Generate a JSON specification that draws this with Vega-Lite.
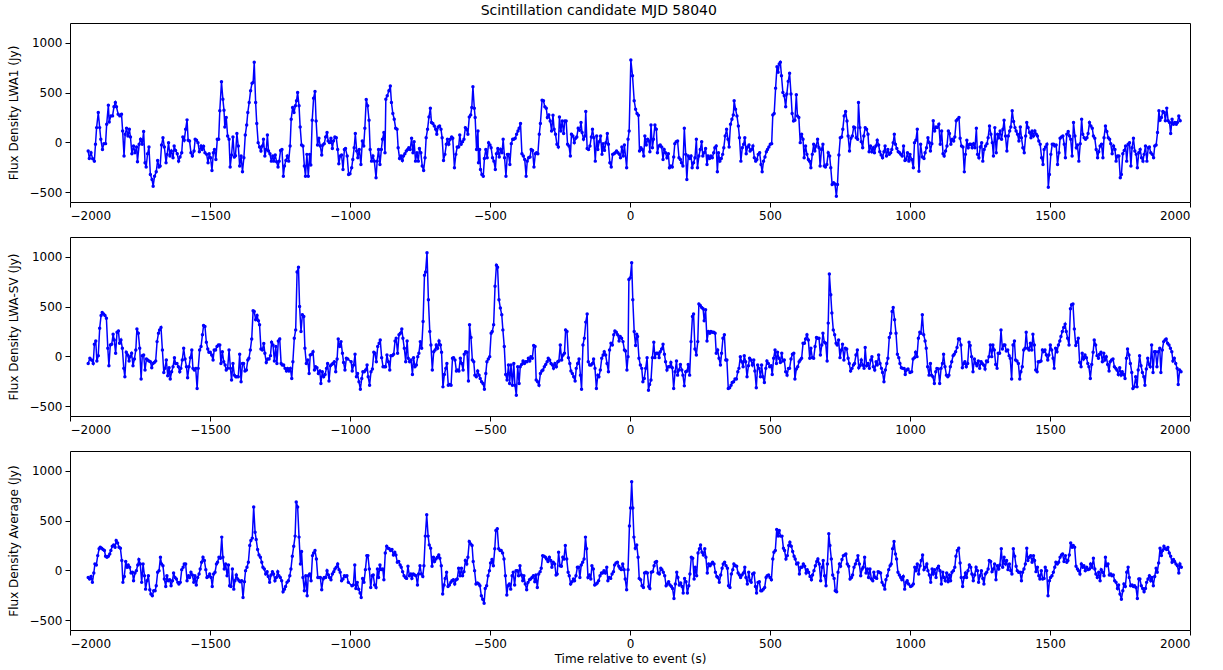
{
"$schema": "https://vega.github.io/schema/vega-lite/v6.json",
"padding": {"left": 6, "top": 3, "right": 5, "bottom": 5},
"background": "white",
"title": {"text": "Scintillation candidate MJD 58040", "fontSize": 14, "fontWeight": "normal", "font": "DejaVu Sans", "color": "black", "anchor": "middle", "offset": 5},
"config": {
  "font": "DejaVu Sans",
  "view": {"stroke": "black", "strokeWidth": 1},
  "axis": {"labelFont": "DejaVu Sans", "titleFont": "DejaVu Sans", "labelFontSize": 12, "titleFontSize": 12, "labelColor": "black", "titleColor": "black", "titleFontWeight": "normal", "grid": false, "domain": false, "tickColor": "black", "tickSize": 5, "tickWidth": 1, "labelPadding": 3, "format": "d"},
  "concat": {"spacing": 35}
},
"bounds": "flush",
"spacing": 35,
"datasets": {
"p1": [
{"t":-1935,"v":-88},{"t":-1931,"v":-162},{"t":-1925,"v":-104},{"t":-1919,"v":-165},{"t":-1913,"v":-189},{"t":-1909,"v":-20},{"t":-1905,"v":148},{"t":-1899,"v":300},{"t":-1894,"v":148},{"t":-1890,"v":30},{"t":-1884,"v":-71},{"t":-1879,"v":-13},{"t":-1873,"v":-13},{"t":-1869,"v":182},{"t":-1863,"v":374},{"t":-1860,"v":205},{"t":-1854,"v":266},{"t":-1848,"v":266},{"t":-1843,"v":357},{"t":-1838,"v":401},{"t":-1834,"v":357},{"t":-1828,"v":283},{"t":-1822,"v":266},{"t":-1816,"v":283},{"t":-1812,"v":115},{"t":-1807,"v":-138},{"t":-1803,"v":81},{"t":-1798,"v":141},{"t":-1793,"v":64},{"t":-1788,"v":131},{"t":-1784,"v":54},{"t":-1779,"v":-115},{"t":-1773,"v":-37},{"t":-1768,"v":-104},{"t":-1762,"v":-47},{"t":-1759,"v":-195},{"t":-1753,"v":-20},{"t":-1748,"v":30},{"t":-1742,"v":-20},{"t":-1737,"v":108},{"t":-1732,"v":-205},{"t":-1728,"v":-249},{"t":-1723,"v":-115},{"t":-1718,"v":-47},{"t":-1713,"v":-323},{"t":-1707,"v":-374},{"t":-1703,"v":-441},{"t":-1698,"v":-340},{"t":-1692,"v":-296},{"t":-1687,"v":-182},{"t":-1682,"v":-249},{"t":-1678,"v":-239},{"t":-1673,"v":-27},{"t":-1668,"v":47},{"t":-1663,"v":-47},{"t":-1657,"v":-205},{"t":-1653,"v":-121},{"t":-1648,"v":-3},{"t":-1643,"v":-138},{"t":-1638,"v":-88},{"t":-1632,"v":-155},{"t":-1628,"v":-37},{"t":-1623,"v":-81},{"t":-1617,"v":-115},{"t":-1612,"v":-189},{"t":-1607,"v":-148},{"t":-1601,"v":-104},{"t":-1597,"v":54},{"t":-1592,"v":20},{"t":-1587,"v":131},{"t":-1582,"v":226},{"t":-1578,"v":20},{"t":-1573,"v":13},{"t":-1568,"v":-104},{"t":-1563,"v":-138},{"t":-1557,"v":-88},{"t":-1553,"v":30},{"t":-1548,"v":20},{"t":-1543,"v":-3},{"t":-1538,"v":-94},{"t":-1532,"v":-37},{"t":-1528,"v":-71},{"t":-1523,"v":-40},{"t":-1518,"v":-104},{"t":-1512,"v":-121},{"t":-1507,"v":-205},{"t":-1503,"v":-115},{"t":-1498,"v":-155},{"t":-1493,"v":-283},{"t":-1488,"v":-104},{"t":-1484,"v":-71},{"t":-1479,"v":-172},{"t":-1474,"v":30},{"t":-1469,"v":30},{"t":-1465,"v":317},{"t":-1459,"v":609},{"t":-1454,"v":434},{"t":-1450,"v":323},{"t":-1447,"v":155},{"t":-1442,"v":249},{"t":-1437,"v":64},{"t":-1432,"v":30},{"t":-1428,"v":-249},{"t":-1423,"v":-128},{"t":-1418,"v":54},{"t":-1413,"v":-148},{"t":-1409,"v":-135},{"t":-1404,"v":88},{"t":-1399,"v":-37},{"t":-1394,"v":-239},{"t":-1389,"v":-138},{"t":-1384,"v":-296},{"t":-1379,"v":-155},{"t":-1374,"v":74},{"t":-1369,"v":175},{"t":-1365,"v":300},{"t":-1360,"v":401},{"t":-1355,"v":519},{"t":-1350,"v":593},{"t":-1346,"v":603},{"t":-1342,"v":805},{"t":-1337,"v":401},{"t":-1333,"v":189},{"t":-1328,"v":-3},{"t":-1323,"v":-47},{"t":-1318,"v":-88},{"t":-1313,"v":-37},{"t":-1309,"v":30},{"t":-1304,"v":-138},{"t":-1299,"v":-71},{"t":-1295,"v":74},{"t":-1291,"v":-88},{"t":-1286,"v":-115},{"t":-1281,"v":-189},{"t":-1276,"v":-138},{"t":-1272,"v":-189},{"t":-1267,"v":-128},{"t":-1262,"v":-195},{"t":-1257,"v":-249},{"t":-1253,"v":-189},{"t":-1248,"v":-81},{"t":-1243,"v":-71},{"t":-1238,"v":-340},{"t":-1234,"v":-239},{"t":-1229,"v":-182},{"t":-1224,"v":-138},{"t":-1219,"v":-189},{"t":-1214,"v":-37},{"t":-1210,"v":232},{"t":-1205,"v":350},{"t":-1200,"v":300},{"t":-1195,"v":367},{"t":-1191,"v":418},{"t":-1187,"v":502},{"t":-1182,"v":367},{"t":-1178,"v":155},{"t":-1173,"v":-27},{"t":-1168,"v":-37},{"t":-1163,"v":-239},{"t":-1159,"v":-340},{"t":-1154,"v":-121},{"t":-1149,"v":-340},{"t":-1144,"v":-121},{"t":-1140,"v":-229},{"t":-1135,"v":222},{"t":-1130,"v":444},{"t":-1125,"v":512},{"t":-1121,"v":215},{"t":-1116,"v":-27},{"t":-1111,"v":40},{"t":-1106,"v":-37},{"t":-1101,"v":-128},{"t":-1097,"v":-27},{"t":-1092,"v":-13},{"t":-1087,"v":54},{"t":-1082,"v":98},{"t":-1078,"v":13},{"t":-1073,"v":-3},{"t":-1068,"v":40},{"t":-1063,"v":-61},{"t":-1059,"v":13},{"t":-1054,"v":54},{"t":-1049,"v":47},{"t":-1044,"v":-71},{"t":-1040,"v":-216},{"t":-1035,"v":-138},{"t":-1030,"v":-128},{"t":-1025,"v":-273},{"t":-1020,"v":-71},{"t":-1016,"v":-61},{"t":-1010,"v":-138},{"t":-1005,"v":-323},
{"t":-1000,"v":-317},{"t":-994,"v":-256},{"t":-990,"v":-172},{"t":-985,"v":-54},{"t":-981,"v":88},{"t":-976,"v":-88},{"t":-972,"v":-155},{"t":-967,"v":-71},{"t":-961,"v":-222},{"t":-956,"v":13},{"t":-951,"v":-37},{"t":-947,"v":141},{"t":-942,"v":431},{"t":-937,"v":367},{"t":-932,"v":222},{"t":-928,"v":-71},{"t":-923,"v":-189},{"t":-918,"v":-138},{"t":-913,"v":-189},{"t":-907,"v":-357},{"t":-903,"v":-189},{"t":-898,"v":-71},{"t":-893,"v":-222},{"t":-888,"v":-71},{"t":-884,"v":30},{"t":-879,"v":98},{"t":-875,"v":-104},{"t":-872,"v":434},{"t":-867,"v":468},{"t":-861,"v":519},{"t":-856,"v":566},{"t":-852,"v":401},{"t":-847,"v":290},{"t":-842,"v":232},{"t":-837,"v":141},{"t":-832,"v":131},{"t":-828,"v":-54},{"t":-823,"v":-162},{"t":-818,"v":-138},{"t":-813,"v":-182},{"t":-809,"v":-138},{"t":-804,"v":-115},{"t":-799,"v":-88},{"t":-794,"v":-71},{"t":-790,"v":-54},{"t":-785,"v":-71},{"t":-780,"v":40},{"t":-775,"v":-104},{"t":-771,"v":7},{"t":-766,"v":-189},{"t":-761,"v":-104},{"t":-756,"v":-189},{"t":-752,"v":-61},{"t":-747,"v":-104},{"t":-742,"v":-239},{"t":-737,"v":-283},{"t":-732,"v":-155},{"t":-728,"v":47},{"t":-723,"v":131},{"t":-718,"v":256},{"t":-713,"v":343},{"t":-709,"v":199},{"t":-704,"v":189},{"t":-699,"v":165},{"t":-694,"v":131},{"t":-690,"v":81},{"t":-685,"v":155},{"t":-680,"v":165},{"t":-675,"v":131},{"t":-671,"v":47},{"t":-666,"v":-182},{"t":-661,"v":-121},{"t":-656,"v":-20},{"t":-652,"v":30},{"t":-647,"v":-20},{"t":-642,"v":30},{"t":-637,"v":54},{"t":-633,"v":40},{"t":-627,"v":-256},{"t":-622,"v":-121},{"t":-617,"v":-47},{"t":-612,"v":-47},{"t":-608,"v":74},{"t":-603,"v":-20},{"t":-598,"v":7},{"t":-593,"v":30},{"t":-588,"v":148},{"t":-584,"v":131},{"t":-579,"v":81},{"t":-574,"v":256},{"t":-569,"v":276},{"t":-565,"v":350},{"t":-561,"v":559},{"t":-556,"v":343},{"t":-553,"v":249},{"t":-548,"v":-71},{"t":-543,"v":115},{"t":-541,"v":-205},{"t":-537,"v":-71},{"t":-534,"v":-273},{"t":-529,"v":-323},{"t":-524,"v":-340},{"t":-520,"v":-162},{"t":-515,"v":-71},{"t":-510,"v":-155},{"t":-505,"v":-3},{"t":-500,"v":-27},{"t":-496,"v":-54},{"t":-491,"v":-155},{"t":-486,"v":-189},{"t":-481,"v":-273},{"t":-477,"v":-115},{"t":-472,"v":-61},{"t":-467,"v":-148},{"t":-462,"v":-71},{"t":-457,"v":-104},{"t":-453,"v":30},{"t":-448,"v":-155},{"t":-443,"v":-340},{"t":-438,"v":-121},{"t":-434,"v":-121},{"t":-429,"v":-222},{"t":-424,"v":-13},{"t":-419,"v":30},{"t":-415,"v":30},{"t":-410,"v":40},{"t":-405,"v":81},{"t":-400,"v":115},{"t":-396,"v":141},{"t":-391,"v":189},{"t":-386,"v":-115},{"t":-381,"v":-138},{"t":-376,"v":-172},{"t":-371,"v":-340},{"t":-367,"v":-189},{"t":-362,"v":-155},{"t":-357,"v":-148},{"t":-353,"v":-71},{"t":-348,"v":-81},{"t":-343,"v":-249},{"t":-338,"v":-115},{"t":-334,"v":-104},{"t":-329,"v":-115},{"t":-324,"v":81},{"t":-320,"v":189},{"t":-314,"v":424},{"t":-309,"v":418},{"t":-304,"v":357},{"t":-299,"v":343},{"t":-295,"v":249},{"t":-290,"v":276},{"t":-285,"v":215},{"t":-280,"v":115},{"t":-275,"v":273},{"t":-271,"v":131},{"t":-266,"v":81},{"t":-261,"v":-20},{"t":-256,"v":-47},{"t":-252,"v":256},{"t":-247,"v":115},{"t":-242,"v":215},{"t":-237,"v":88},{"t":-233,"v":215},{"t":-228,"v":215},{"t":-223,"v":-20},{"t":-218,"v":-37},{"t":-213,"v":-138},{"t":-209,"v":81},{"t":-204,"v":64},{"t":-199,"v":-3},{"t":-194,"v":40},{"t":-190,"v":54},{"t":-185,"v":141},{"t":-180,"v":121},{"t":-175,"v":199},{"t":-171,"v":98},{"t":-166,"v":30},{"t":-161,"v":64},{"t":-158,"v":310},{"t":-153,"v":-61},{"t":-148,"v":-71},{"t":-143,"v":-37},{"t":-138,"v":54},{"t":-134,"v":131},{"t":-129,"v":47},{"t":-124,"v":-189},{"t":-119,"v":64},{"t":-115,"v":-71},{"t":-110,"v":7},{"t":-105,"v":64},{"t":-100,"v":-121},{"t":-96,"v":-13},{"t":-91,"v":-81},{"t":-86,"v":-3},{"t":-81,"v":88},{"t":-77,"v":-20},{"t":-72,"v":-205},{"t":-67,"v":-249},{"t":-62,"v":-121},{"t":-57,"v":-115},{"t":-53,"v":-104},{"t":-48,"v":-88},{"t":-43,"v":-104},{"t":-38,"v":-121},{"t":-34,"v":-155},{"t":-29,"v":-47},{"t":-24,"v":-138},{"t":-20,"v":-27},
{"t":-12,"v":-256},{"t":-7,"v":30},{"t":-3,"v":115},{"t":3,"v":828},{"t":9,"v":670},{"t":15,"v":418},{"t":20,"v":333},{"t":25,"v":290},{"t":30,"v":273},{"t":34,"v":-88},{"t":39,"v":-54},{"t":44,"v":-71},{"t":49,"v":-138},{"t":53,"v":64},{"t":58,"v":-27},{"t":63,"v":30},{"t":68,"v":13},{"t":71,"v":-94},{"t":75,"v":175},{"t":80,"v":-54},{"t":84,"v":30},{"t":89,"v":175},{"t":94,"v":131},{"t":98,"v":-104},{"t":103,"v":-37},{"t":108,"v":-27},{"t":113,"v":-47},{"t":118,"v":-172},{"t":122,"v":-71},{"t":127,"v":-104},{"t":132,"v":-155},{"t":137,"v":-115},{"t":141,"v":-256},{"t":146,"v":-239},{"t":151,"v":-249},{"t":156,"v":-148},{"t":160,"v":-13},{"t":165,"v":7},{"t":170,"v":13},{"t":175,"v":-155},{"t":180,"v":-172},{"t":184,"v":-205},{"t":189,"v":-239},{"t":194,"v":141},{"t":199,"v":-121},{"t":203,"v":-374},{"t":208,"v":-138},{"t":213,"v":-162},{"t":218,"v":-138},{"t":222,"v":-256},{"t":227,"v":-205},{"t":232,"v":-155},{"t":237,"v":30},{"t":241,"v":-256},{"t":246,"v":-138},{"t":251,"v":-71},{"t":256,"v":7},{"t":260,"v":-138},{"t":265,"v":-104},{"t":270,"v":-61},{"t":275,"v":-222},{"t":279,"v":-138},{"t":284,"v":-162},{"t":289,"v":-138},{"t":294,"v":-155},{"t":299,"v":-104},{"t":303,"v":-54},{"t":308,"v":-37},{"t":312,"v":-296},{"t":316,"v":-104},{"t":321,"v":-189},{"t":326,"v":-162},{"t":331,"v":-121},{"t":335,"v":-54},{"t":340,"v":64},{"t":345,"v":131},{"t":350,"v":30},{"t":354,"v":-47},{"t":359,"v":182},{"t":364,"v":232},{"t":369,"v":276},{"t":372,"v":418},{"t":377,"v":333},{"t":382,"v":266},{"t":387,"v":165},{"t":391,"v":47},{"t":396,"v":-189},{"t":401,"v":-54},{"t":406,"v":-20},{"t":410,"v":47},{"t":415,"v":-115},{"t":420,"v":-47},{"t":425,"v":-27},{"t":429,"v":-88},{"t":434,"v":-71},{"t":439,"v":-37},{"t":444,"v":-155},{"t":449,"v":-189},{"t":453,"v":-172},{"t":458,"v":-121},{"t":463,"v":-104},{"t":468,"v":-222},{"t":472,"v":-296},{"t":477,"v":-189},{"t":482,"v":-148},{"t":487,"v":-94},{"t":491,"v":-71},{"t":496,"v":-47},{"t":501,"v":-20},{"t":506,"v":-13},{"t":510,"v":276},{"t":515,"v":290},{"t":520,"v":545},{"t":525,"v":761},{"t":529,"v":704},{"t":533,"v":788},{"t":537,"v":805},{"t":541,"v":670},{"t":546,"v":502},{"t":551,"v":468},{"t":556,"v":357},{"t":560,"v":485},{"t":565,"v":613},{"t":570,"v":694},{"t":575,"v":485},{"t":579,"v":290},{"t":584,"v":215},{"t":589,"v":222},{"t":594,"v":478},{"t":598,"v":266},{"t":603,"v":249},{"t":608,"v":-3},{"t":613,"v":81},{"t":618,"v":30},{"t":622,"v":-155},{"t":627,"v":-37},{"t":632,"v":-121},{"t":637,"v":-172},{"t":641,"v":-189},{"t":646,"v":-256},{"t":651,"v":-121},{"t":656,"v":-20},{"t":660,"v":-88},{"t":665,"v":-37},{"t":670,"v":30},{"t":675,"v":-54},{"t":679,"v":-239},{"t":684,"v":-71},{"t":689,"v":-20},{"t":694,"v":-239},{"t":698,"v":-249},{"t":703,"v":-222},{"t":708,"v":-104},{"t":713,"v":-138},{"t":717,"v":-256},{"t":722,"v":-424},{"t":727,"v":-407},{"t":732,"v":-418},{"t":737,"v":-542},{"t":741,"v":-424},{"t":746,"v":-128},{"t":751,"v":47},{"t":756,"v":54},{"t":760,"v":131},{"t":765,"v":266},{"t":770,"v":310},{"t":775,"v":215},{"t":779,"v":64},{"t":784,"v":-88},{"t":789,"v":40},{"t":794,"v":64},{"t":799,"v":155},{"t":803,"v":148},{"t":808,"v":47},{"t":813,"v":30},{"t":816,"v":401},{"t":821,"v":148},{"t":826,"v":7},{"t":831,"v":-54},{"t":835,"v":64},{"t":840,"v":148},{"t":845,"v":131},{"t":850,"v":81},{"t":854,"v":-94},{"t":859,"v":-37},{"t":864,"v":-94},{"t":869,"v":-54},{"t":873,"v":-104},{"t":878,"v":-37},{"t":883,"v":20},{"t":888,"v":-27},{"t":892,"v":-94},{"t":897,"v":-128},{"t":902,"v":-155},{"t":907,"v":-94},{"t":911,"v":-37},{"t":916,"v":-138},{"t":921,"v":-71},{"t":926,"v":-121},{"t":931,"v":-104},{"t":935,"v":-71},{"t":940,"v":-3},{"t":944,"v":81},{"t":948,"v":-20},{"t":953,"v":-61},{"t":958,"v":-94},{"t":963,"v":-104},{"t":967,"v":-121},{"t":972,"v":-138},{"t":977,"v":-37},{"t":982,"v":-182},{"t":986,"v":-172},{"t":991,"v":-104},{"t":996,"v":-189},
{"t":1000,"v":-121},{"t":1006,"v":-172},{"t":1012,"v":-256},{"t":1016,"v":-3},{"t":1021,"v":20},{"t":1026,"v":131},{"t":1032,"v":-290},{"t":1038,"v":-20},{"t":1044,"v":-148},{"t":1050,"v":-162},{"t":1054,"v":-104},{"t":1059,"v":-54},{"t":1064,"v":47},{"t":1069,"v":-3},{"t":1073,"v":-88},{"t":1078,"v":-13},{"t":1083,"v":216},{"t":1088,"v":115},{"t":1093,"v":155},{"t":1097,"v":148},{"t":1103,"v":182},{"t":1108,"v":-20},{"t":1113,"v":115},{"t":1118,"v":-115},{"t":1122,"v":-138},{"t":1127,"v":-88},{"t":1132,"v":-37},{"t":1137,"v":115},{"t":1141,"v":88},{"t":1146,"v":-20},{"t":1151,"v":30},{"t":1156,"v":13},{"t":1160,"v":54},{"t":1165,"v":216},{"t":1170,"v":233},{"t":1175,"v":249},{"t":1179,"v":40},{"t":1184,"v":-37},{"t":1189,"v":-47},{"t":1194,"v":-297},{"t":1198,"v":-121},{"t":1203,"v":20},{"t":1208,"v":-54},{"t":1213,"v":-20},{"t":1217,"v":-20},{"t":1222,"v":-54},{"t":1227,"v":-13},{"t":1232,"v":-54},{"t":1237,"v":142},{"t":1241,"v":-121},{"t":1246,"v":-155},{"t":1251,"v":-47},{"t":1256,"v":-3},{"t":1260,"v":-189},{"t":1265,"v":-71},{"t":1270,"v":-37},{"t":1275,"v":-13},{"t":1279,"v":47},{"t":1284,"v":165},{"t":1289,"v":81},{"t":1294,"v":-3},{"t":1298,"v":-138},{"t":1303,"v":148},{"t":1308,"v":-104},{"t":1313,"v":81},{"t":1317,"v":47},{"t":1322,"v":115},{"t":1327,"v":30},{"t":1332,"v":131},{"t":1336,"v":222},{"t":1341,"v":64},{"t":1346,"v":-88},{"t":1351,"v":64},{"t":1356,"v":115},{"t":1360,"v":155},{"t":1365,"v":317},{"t":1370,"v":209},{"t":1375,"v":148},{"t":1379,"v":115},{"t":1384,"v":81},{"t":1389,"v":13},{"t":1394,"v":155},{"t":1398,"v":47},{"t":1403,"v":-54},{"t":1408,"v":-104},{"t":1413,"v":64},{"t":1417,"v":199},{"t":1422,"v":148},{"t":1427,"v":98},{"t":1432,"v":47},{"t":1436,"v":115},{"t":1441,"v":64},{"t":1446,"v":115},{"t":1451,"v":81},{"t":1455,"v":64},{"t":1460,"v":13},{"t":1465,"v":-20},{"t":1470,"v":-155},{"t":1475,"v":-222},{"t":1479,"v":-71},{"t":1484,"v":-47},{"t":1489,"v":-20},{"t":1494,"v":-452},{"t":1498,"v":-324},{"t":1503,"v":-121},{"t":1508,"v":-20},{"t":1513,"v":-20},{"t":1517,"v":-37},{"t":1522,"v":-27},{"t":1527,"v":-222},{"t":1532,"v":-104},{"t":1536,"v":40},{"t":1541,"v":54},{"t":1546,"v":64},{"t":1551,"v":-20},{"t":1555,"v":-155},{"t":1560,"v":81},{"t":1565,"v":108},{"t":1570,"v":64},{"t":1574,"v":30},{"t":1579,"v":-138},{"t":1584,"v":199},{"t":1589,"v":64},{"t":1594,"v":-54},{"t":1598,"v":-27},{"t":1603,"v":-189},{"t":1608,"v":-13},{"t":1613,"v":233},{"t":1617,"v":81},{"t":1622,"v":47},{"t":1627,"v":30},{"t":1632,"v":47},{"t":1636,"v":88},{"t":1641,"v":199},{"t":1646,"v":165},{"t":1651,"v":142},{"t":1655,"v":64},{"t":1660,"v":40},{"t":1665,"v":-71},{"t":1670,"v":-155},{"t":1674,"v":-94},{"t":1679,"v":-37},{"t":1684,"v":-20},{"t":1689,"v":-155},{"t":1693,"v":47},{"t":1698,"v":165},{"t":1703,"v":108},{"t":1708,"v":47},{"t":1713,"v":30},{"t":1717,"v":-13},{"t":1722,"v":-115},{"t":1727,"v":-37},{"t":1732,"v":-71},{"t":1736,"v":-189},{"t":1741,"v":-138},{"t":1746,"v":-138},{"t":1751,"v":-357},{"t":1755,"v":-324},{"t":1760,"v":-115},{"t":1765,"v":-81},{"t":1770,"v":-37},{"t":1774,"v":-189},{"t":1779,"v":-20},{"t":1784,"v":-3},{"t":1789,"v":-239},{"t":1793,"v":-54},{"t":1798,"v":40},{"t":1803,"v":-88},{"t":1808,"v":-121},{"t":1812,"v":-256},{"t":1817,"v":-104},{"t":1822,"v":-71},{"t":1827,"v":-155},{"t":1832,"v":-189},{"t":1836,"v":-121},{"t":1841,"v":-37},{"t":1846,"v":-189},{"t":1851,"v":-54},{"t":1855,"v":-47},{"t":1860,"v":-104},{"t":1865,"v":-121},{"t":1870,"v":-155},{"t":1874,"v":-37},{"t":1879,"v":-27},{"t":1884,"v":98},{"t":1889,"v":317},{"t":1893,"v":222},{"t":1898,"v":249},{"t":1903,"v":310},{"t":1908,"v":300},{"t":1912,"v":216},{"t":1917,"v":344},{"t":1922,"v":216},{"t":1927,"v":199},{"t":1931,"v":88},{"t":1936,"v":233},{"t":1941,"v":182},{"t":1946,"v":199},{"t":1951,"v":182},{"t":1955,"v":199},{"t":1960,"v":266},{"t":1965,"v":216}
],
"p2": [
{"t":-1935,"v":-71},{"t":-1929,"v":-20},{"t":-1923,"v":-37},{"t":-1917,"v":-71},{"t":-1913,"v":121},{"t":-1908,"v":155},{"t":-1904,"v":-47},{"t":-1899,"v":7},{"t":-1894,"v":283},{"t":-1889,"v":411},{"t":-1885,"v":441},{"t":-1880,"v":425},{"t":-1875,"v":411},{"t":-1870,"v":384},{"t":-1865,"v":81},{"t":-1861,"v":-94},{"t":-1856,"v":115},{"t":-1851,"v":121},{"t":-1846,"v":222},{"t":-1842,"v":165},{"t":-1837,"v":30},{"t":-1832,"v":243},{"t":-1827,"v":256},{"t":-1823,"v":131},{"t":-1818,"v":165},{"t":-1813,"v":81},{"t":-1808,"v":-121},{"t":-1804,"v":-206},{"t":-1799,"v":40},{"t":-1794,"v":13},{"t":-1789,"v":-47},{"t":-1785,"v":-3},{"t":-1780,"v":30},{"t":-1775,"v":-94},{"t":-1770,"v":-27},{"t":-1765,"v":64},{"t":-1761,"v":276},{"t":-1756,"v":233},{"t":-1751,"v":81},{"t":-1746,"v":-229},{"t":-1742,"v":7},{"t":-1737,"v":13},{"t":-1732,"v":-138},{"t":-1727,"v":-27},{"t":-1723,"v":-37},{"t":-1718,"v":-47},{"t":-1713,"v":-54},{"t":-1708,"v":-115},{"t":-1704,"v":-71},{"t":-1699,"v":-61},{"t":-1694,"v":-47},{"t":-1689,"v":148},{"t":-1684,"v":233},{"t":-1680,"v":266},{"t":-1675,"v":290},{"t":-1670,"v":64},{"t":-1665,"v":-162},{"t":-1661,"v":-121},{"t":-1656,"v":-37},{"t":-1651,"v":-195},{"t":-1646,"v":-115},{"t":-1642,"v":-229},{"t":-1637,"v":-155},{"t":-1632,"v":-104},{"t":-1627,"v":-13},{"t":-1623,"v":-71},{"t":-1618,"v":-71},{"t":-1613,"v":-104},{"t":-1608,"v":-155},{"t":-1604,"v":-121},{"t":-1599,"v":-37},{"t":-1594,"v":81},{"t":-1589,"v":-27},{"t":-1584,"v":-104},{"t":-1580,"v":-216},{"t":-1575,"v":-104},{"t":-1570,"v":-13},{"t":-1565,"v":64},{"t":-1561,"v":-121},{"t":-1556,"v":-138},{"t":-1551,"v":-121},{"t":-1546,"v":-324},{"t":-1542,"v":-121},{"t":-1537,"v":64},{"t":-1532,"v":98},{"t":-1527,"v":216},{"t":-1523,"v":310},{"t":-1518,"v":300},{"t":-1513,"v":142},{"t":-1508,"v":74},{"t":-1504,"v":40},{"t":-1499,"v":40},{"t":-1494,"v":13},{"t":-1489,"v":-37},{"t":-1485,"v":64},{"t":-1480,"v":64},{"t":-1475,"v":98},{"t":-1470,"v":115},{"t":-1465,"v":115},{"t":-1461,"v":-71},{"t":-1456,"v":47},{"t":-1451,"v":-54},{"t":-1446,"v":-88},{"t":-1442,"v":-138},{"t":-1437,"v":-121},{"t":-1432,"v":64},{"t":-1427,"v":-121},{"t":-1423,"v":-239},{"t":-1418,"v":-71},{"t":-1413,"v":-189},{"t":-1408,"v":-206},{"t":-1404,"v":-206},{"t":-1399,"v":-206},{"t":-1394,"v":20},{"t":-1389,"v":-256},{"t":-1384,"v":-71},{"t":-1380,"v":-71},{"t":-1375,"v":-148},{"t":-1370,"v":-138},{"t":-1365,"v":-37},{"t":-1361,"v":-20},{"t":-1356,"v":64},{"t":-1351,"v":175},{"t":-1346,"v":458},{"t":-1342,"v":452},{"t":-1337,"v":367},{"t":-1332,"v":411},{"t":-1327,"v":357},{"t":-1323,"v":317},{"t":-1318,"v":74},{"t":-1313,"v":64},{"t":-1308,"v":128},{"t":-1304,"v":30},{"t":-1299,"v":-61},{"t":-1294,"v":-27},{"t":-1289,"v":-27},{"t":-1284,"v":7},{"t":-1280,"v":142},{"t":-1275,"v":115},{"t":-1270,"v":-47},{"t":-1265,"v":98},{"t":-1261,"v":-71},{"t":-1256,"v":155},{"t":-1251,"v":175},{"t":-1246,"v":-71},{"t":-1242,"v":-88},{"t":-1237,"v":-88},{"t":-1232,"v":-121},{"t":-1227,"v":-148},{"t":-1223,"v":-121},{"t":-1218,"v":-148},{"t":-1213,"v":-121},{"t":-1208,"v":-222},{"t":-1204,"v":-54},{"t":-1199,"v":182},{"t":-1194,"v":266},{"t":-1189,"v":849},{"t":-1184,"v":896},{"t":-1180,"v":502},{"t":-1175,"v":249},{"t":-1170,"v":418},{"t":-1165,"v":401},{"t":-1161,"v":81},{"t":-1156,"v":-71},{"t":-1151,"v":-37},{"t":-1146,"v":-172},{"t":-1142,"v":13},{"t":-1137,"v":20},{"t":-1132,"v":47},{"t":-1127,"v":-138},{"t":-1123,"v":-104},{"t":-1118,"v":-115},{"t":-1113,"v":-172},{"t":-1108,"v":-148},{"t":-1104,"v":-273},{"t":-1099,"v":-155},{"t":-1094,"v":-206},{"t":-1089,"v":-182},{"t":-1084,"v":-121},{"t":-1080,"v":-71},{"t":-1075,"v":-249},{"t":-1070,"v":-94},{"t":-1065,"v":-81},{"t":-1061,"v":-71},{"t":-1056,"v":-54},{"t":-1051,"v":-155},{"t":-1046,"v":-27},{"t":-1042,"v":175},{"t":-1037,"v":98},{"t":-1032,"v":148},{"t":-1027,"v":30},{"t":-1023,"v":-61},{"t":-1018,"v":-138},{"t":-1013,"v":-20},{"t":-1008,"v":-27},
{"t":-996,"v":-54},{"t":-992,"v":-148},{"t":-987,"v":-88},{"t":-982,"v":20},{"t":-977,"v":-206},{"t":-973,"v":-172},{"t":-968,"v":-256},{"t":-963,"v":-330},{"t":-958,"v":-222},{"t":-954,"v":-155},{"t":-949,"v":-155},{"t":-944,"v":-138},{"t":-939,"v":-88},{"t":-935,"v":-206},{"t":-930,"v":-290},{"t":-925,"v":-155},{"t":-920,"v":-128},{"t":-915,"v":40},{"t":-911,"v":30},{"t":-906,"v":-54},{"t":-901,"v":98},{"t":-896,"v":131},{"t":-892,"v":165},{"t":-887,"v":-13},{"t":-882,"v":-104},{"t":-877,"v":-104},{"t":-873,"v":-104},{"t":-868,"v":13},{"t":-863,"v":-54},{"t":-858,"v":-138},{"t":-854,"v":7},{"t":-849,"v":7},{"t":-844,"v":20},{"t":-839,"v":155},{"t":-835,"v":182},{"t":-830,"v":30},{"t":-825,"v":216},{"t":-820,"v":233},{"t":-815,"v":276},{"t":-811,"v":182},{"t":-806,"v":81},{"t":-801,"v":-54},{"t":-796,"v":155},{"t":-792,"v":-20},{"t":-787,"v":-54},{"t":-782,"v":-37},{"t":-777,"v":-182},{"t":-773,"v":-13},{"t":-768,"v":-104},{"t":-763,"v":-88},{"t":-758,"v":-3},{"t":-754,"v":30},{"t":-749,"v":148},{"t":-744,"v":81},{"t":-739,"v":350},{"t":-734,"v":816},{"t":-730,"v":849},{"t":-725,"v":1041},{"t":-720,"v":570},{"t":-715,"v":249},{"t":-711,"v":115},{"t":-706,"v":-138},{"t":-701,"v":47},{"t":-696,"v":64},{"t":-692,"v":115},{"t":-687,"v":81},{"t":-682,"v":155},{"t":-677,"v":115},{"t":-673,"v":40},{"t":-668,"v":-307},{"t":-663,"v":-182},{"t":-658,"v":-121},{"t":-654,"v":-71},{"t":-649,"v":-290},{"t":-644,"v":-283},{"t":-639,"v":-290},{"t":-634,"v":-20},{"t":-630,"v":-13},{"t":-625,"v":-37},{"t":-620,"v":-148},{"t":-615,"v":-138},{"t":-611,"v":-148},{"t":-606,"v":-20},{"t":-601,"v":-71},{"t":-596,"v":-138},{"t":-592,"v":20},{"t":-587,"v":47},{"t":-582,"v":40},{"t":-577,"v":-249},{"t":-573,"v":317},{"t":-568,"v":189},{"t":-563,"v":-37},{"t":-558,"v":-54},{"t":-554,"v":-189},{"t":-549,"v":-206},{"t":-544,"v":-148},{"t":-539,"v":-189},{"t":-535,"v":-222},{"t":-530,"v":-256},{"t":-525,"v":-273},{"t":-520,"v":-330},{"t":-515,"v":-172},{"t":-511,"v":-54},{"t":-506,"v":-27},{"t":-501,"v":-3},{"t":-496,"v":233},{"t":-492,"v":249},{"t":-487,"v":317},{"t":-482,"v":704},{"t":-477,"v":917},{"t":-473,"v":896},{"t":-468,"v":570},{"t":-463,"v":485},{"t":-458,"v":418},{"t":-454,"v":266},{"t":-449,"v":98},{"t":-444,"v":-182},{"t":-439,"v":-239},{"t":-434,"v":-88},{"t":-430,"v":-273},{"t":-425,"v":-88},{"t":-420,"v":-290},{"t":-415,"v":-71},{"t":-411,"v":-290},{"t":-406,"v":-391},{"t":-401,"v":-104},{"t":-396,"v":-273},{"t":-392,"v":-104},{"t":-387,"v":-81},{"t":-382,"v":-47},{"t":-377,"v":-71},{"t":-373,"v":-54},{"t":-368,"v":-54},{"t":-363,"v":-20},{"t":-358,"v":-47},{"t":-354,"v":-3},{"t":-349,"v":-20},{"t":-344,"v":108},{"t":-339,"v":98},{"t":-335,"v":-239},{"t":-330,"v":-256},{"t":-325,"v":-290},{"t":-320,"v":-172},{"t":-315,"v":-148},{"t":-311,"v":-138},{"t":-306,"v":-104},{"t":-301,"v":-81},{"t":-296,"v":-54},{"t":-292,"v":-20},{"t":-287,"v":-37},{"t":-282,"v":-71},{"t":-277,"v":-88},{"t":-273,"v":-121},{"t":-268,"v":-71},{"t":-263,"v":-104},{"t":-258,"v":-54},{"t":-254,"v":-47},{"t":-249,"v":115},{"t":-244,"v":-37},{"t":-239,"v":13},{"t":-234,"v":30},{"t":-230,"v":266},{"t":-225,"v":249},{"t":-220,"v":-13},{"t":-215,"v":-71},{"t":-211,"v":-148},{"t":-206,"v":-172},{"t":-201,"v":-206},{"t":-196,"v":-249},{"t":-192,"v":-121},{"t":-187,"v":-71},{"t":-182,"v":-27},{"t":-177,"v":-189},{"t":-173,"v":-330},{"t":-168,"v":115},{"t":-163,"v":182},{"t":-158,"v":344},{"t":-153,"v":425},{"t":-149,"v":-54},{"t":-144,"v":-88},{"t":-139,"v":-88},{"t":-134,"v":-71},{"t":-130,"v":-27},{"t":-125,"v":-121},{"t":-120,"v":-324},{"t":-115,"v":-189},{"t":-111,"v":-206},{"t":-106,"v":-138},{"t":-101,"v":-20},{"t":-96,"v":13},{"t":-92,"v":47},{"t":-87,"v":13},{"t":-82,"v":-71},{"t":-77,"v":-155},{"t":-73,"v":64},{"t":-68,"v":131},{"t":-63,"v":115},{"t":-58,"v":216},{"t":-54,"v":256},{"t":-49,"v":243},{"t":-44,"v":216},{"t":-39,"v":155},{"t":-35,"v":199},{"t":-30,"v":182},{"t":-25,"v":148},{"t":-20,"v":64},{"t":-16,"v":54},{"t":-11,"v":-138},
{"t":-7,"v":-3},{"t":-4,"v":772},{"t":1,"v":789},{"t":6,"v":940},{"t":10,"v":570},{"t":15,"v":249},{"t":20,"v":108},{"t":24,"v":222},{"t":27,"v":199},{"t":32,"v":-20},{"t":37,"v":-88},{"t":42,"v":-121},{"t":46,"v":-256},{"t":51,"v":-222},{"t":56,"v":-121},{"t":61,"v":-13},{"t":66,"v":-340},{"t":70,"v":-283},{"t":75,"v":-239},{"t":80,"v":-13},{"t":85,"v":142},{"t":89,"v":-13},{"t":94,"v":30},{"t":99,"v":30},{"t":104,"v":-13},{"t":108,"v":47},{"t":113,"v":74},{"t":118,"v":121},{"t":123,"v":20},{"t":127,"v":-54},{"t":132,"v":-138},{"t":137,"v":-104},{"t":142,"v":-104},{"t":146,"v":-61},{"t":151,"v":-115},{"t":156,"v":-324},{"t":161,"v":-155},{"t":166,"v":-47},{"t":170,"v":-189},{"t":175,"v":-138},{"t":180,"v":-81},{"t":185,"v":-138},{"t":189,"v":-189},{"t":194,"v":-297},{"t":199,"v":-155},{"t":204,"v":-148},{"t":208,"v":-81},{"t":213,"v":-189},{"t":218,"v":148},{"t":223,"v":401},{"t":227,"v":425},{"t":232,"v":74},{"t":237,"v":13},{"t":242,"v":148},{"t":246,"v":526},{"t":251,"v":512},{"t":256,"v":492},{"t":261,"v":479},{"t":265,"v":357},{"t":270,"v":468},{"t":275,"v":155},{"t":280,"v":249},{"t":285,"v":233},{"t":289,"v":249},{"t":294,"v":243},{"t":299,"v":243},{"t":304,"v":233},{"t":308,"v":30},{"t":313,"v":64},{"t":318,"v":-20},{"t":323,"v":-88},{"t":327,"v":30},{"t":332,"v":182},{"t":337,"v":216},{"t":342,"v":-37},{"t":346,"v":-37},{"t":351,"v":-324},{"t":356,"v":-317},{"t":361,"v":-290},{"t":365,"v":-263},{"t":370,"v":-256},{"t":375,"v":-229},{"t":380,"v":-229},{"t":385,"v":-155},{"t":389,"v":-121},{"t":394,"v":-3},{"t":399,"v":-54},{"t":404,"v":-104},{"t":408,"v":7},{"t":413,"v":-54},{"t":418,"v":-206},{"t":423,"v":-94},{"t":427,"v":-20},{"t":432,"v":-37},{"t":437,"v":-88},{"t":442,"v":-37},{"t":446,"v":-148},{"t":451,"v":-317},{"t":456,"v":-88},{"t":461,"v":-121},{"t":466,"v":-206},{"t":470,"v":-88},{"t":475,"v":-206},{"t":480,"v":-263},{"t":485,"v":-121},{"t":489,"v":-47},{"t":494,"v":-71},{"t":499,"v":-104},{"t":504,"v":-94},{"t":508,"v":-182},{"t":513,"v":-20},{"t":518,"v":64},{"t":523,"v":-71},{"t":527,"v":40},{"t":532,"v":-20},{"t":537,"v":-61},{"t":542,"v":30},{"t":546,"v":-47},{"t":551,"v":-37},{"t":556,"v":-155},{"t":561,"v":-189},{"t":566,"v":-121},{"t":570,"v":-121},{"t":575,"v":-27},{"t":580,"v":20},{"t":585,"v":30},{"t":589,"v":-229},{"t":594,"v":-128},{"t":599,"v":-104},{"t":604,"v":-54},{"t":608,"v":-37},{"t":613,"v":-20},{"t":618,"v":131},{"t":623,"v":131},{"t":627,"v":175},{"t":632,"v":216},{"t":637,"v":165},{"t":642,"v":-20},{"t":646,"v":81},{"t":651,"v":-13},{"t":656,"v":-20},{"t":661,"v":98},{"t":666,"v":189},{"t":670,"v":182},{"t":675,"v":182},{"t":680,"v":13},{"t":685,"v":115},{"t":689,"v":233},{"t":694,"v":142},{"t":699,"v":131},{"t":704,"v":-47},{"t":708,"v":334},{"t":712,"v":829},{"t":717,"v":620},{"t":721,"v":435},{"t":726,"v":266},{"t":731,"v":216},{"t":736,"v":131},{"t":740,"v":115},{"t":745,"v":165},{"t":750,"v":-13},{"t":755,"v":64},{"t":759,"v":121},{"t":764,"v":-37},{"t":769,"v":81},{"t":774,"v":74},{"t":779,"v":-20},{"t":783,"v":-71},{"t":788,"v":-148},{"t":793,"v":-121},{"t":798,"v":-88},{"t":802,"v":-71},{"t":807,"v":13},{"t":812,"v":64},{"t":817,"v":-115},{"t":821,"v":-94},{"t":826,"v":-37},{"t":831,"v":-88},{"t":836,"v":-121},{"t":840,"v":88},{"t":845,"v":-94},{"t":850,"v":-71},{"t":855,"v":-121},{"t":860,"v":-37},{"t":864,"v":-3},{"t":869,"v":-104},{"t":874,"v":-138},{"t":879,"v":-54},{"t":883,"v":-88},{"t":888,"v":13},{"t":893,"v":-71},{"t":898,"v":-121},{"t":902,"v":-162},{"t":907,"v":-256},{"t":912,"v":-138},{"t":917,"v":-71},{"t":921,"v":-20},{"t":926,"v":189},{"t":931,"v":233},{"t":936,"v":452},{"t":940,"v":492},{"t":945,"v":367},{"t":950,"v":233},{"t":955,"v":20},{"t":960,"v":-13},{"t":964,"v":-71},{"t":969,"v":-115},{"t":974,"v":-121},{"t":979,"v":-121},{"t":983,"v":-182},{"t":988,"v":-138},{"t":993,"v":-128},
{"t":1000,"v":-162},{"t":1006,"v":-155},{"t":1011,"v":-27},{"t":1016,"v":-13},{"t":1020,"v":40},{"t":1025,"v":-3},{"t":1030,"v":182},{"t":1035,"v":243},{"t":1039,"v":233},{"t":1044,"v":418},{"t":1049,"v":216},{"t":1054,"v":155},{"t":1058,"v":81},{"t":1063,"v":-104},{"t":1068,"v":-189},{"t":1073,"v":-71},{"t":1077,"v":-189},{"t":1082,"v":-206},{"t":1087,"v":-273},{"t":1092,"v":-155},{"t":1096,"v":-121},{"t":1101,"v":-128},{"t":1106,"v":-273},{"t":1111,"v":-121},{"t":1116,"v":-71},{"t":1120,"v":20},{"t":1125,"v":-104},{"t":1130,"v":-189},{"t":1135,"v":-206},{"t":1139,"v":-189},{"t":1144,"v":-104},{"t":1149,"v":-54},{"t":1154,"v":7},{"t":1158,"v":20},{"t":1163,"v":47},{"t":1168,"v":88},{"t":1173,"v":175},{"t":1177,"v":175},{"t":1182,"v":115},{"t":1187,"v":-115},{"t":1192,"v":-71},{"t":1196,"v":-54},{"t":1201,"v":-104},{"t":1206,"v":-71},{"t":1211,"v":142},{"t":1215,"v":108},{"t":1220,"v":-3},{"t":1225,"v":-155},{"t":1230,"v":-27},{"t":1235,"v":-71},{"t":1239,"v":-94},{"t":1244,"v":-47},{"t":1249,"v":-121},{"t":1254,"v":-54},{"t":1258,"v":-71},{"t":1263,"v":-88},{"t":1268,"v":-128},{"t":1273,"v":-47},{"t":1277,"v":-54},{"t":1282,"v":-3},{"t":1287,"v":115},{"t":1292,"v":-3},{"t":1296,"v":115},{"t":1301,"v":64},{"t":1306,"v":-81},{"t":1311,"v":-121},{"t":1315,"v":30},{"t":1320,"v":30},{"t":1325,"v":266},{"t":1330,"v":74},{"t":1335,"v":115},{"t":1339,"v":115},{"t":1344,"v":54},{"t":1349,"v":64},{"t":1354,"v":7},{"t":1358,"v":-20},{"t":1363,"v":-229},{"t":1368,"v":115},{"t":1373,"v":155},{"t":1377,"v":-37},{"t":1382,"v":-47},{"t":1387,"v":-71},{"t":1392,"v":-229},{"t":1396,"v":-155},{"t":1401,"v":-104},{"t":1406,"v":64},{"t":1411,"v":81},{"t":1415,"v":243},{"t":1420,"v":81},{"t":1425,"v":64},{"t":1430,"v":131},{"t":1435,"v":64},{"t":1439,"v":222},{"t":1444,"v":115},{"t":1449,"v":-138},{"t":1454,"v":-155},{"t":1458,"v":-54},{"t":1463,"v":-54},{"t":1468,"v":-47},{"t":1473,"v":64},{"t":1477,"v":47},{"t":1482,"v":64},{"t":1487,"v":13},{"t":1492,"v":-37},{"t":1496,"v":13},{"t":1501,"v":115},{"t":1506,"v":64},{"t":1511,"v":-20},{"t":1515,"v":-121},{"t":1520,"v":81},{"t":1525,"v":47},{"t":1530,"v":115},{"t":1535,"v":155},{"t":1539,"v":199},{"t":1544,"v":249},{"t":1549,"v":290},{"t":1554,"v":324},{"t":1558,"v":249},{"t":1563,"v":182},{"t":1568,"v":115},{"t":1573,"v":479},{"t":1577,"v":519},{"t":1582,"v":526},{"t":1587,"v":276},{"t":1592,"v":108},{"t":1596,"v":142},{"t":1601,"v":182},{"t":1606,"v":-61},{"t":1611,"v":-104},{"t":1615,"v":30},{"t":1620,"v":-27},{"t":1625,"v":13},{"t":1630,"v":-13},{"t":1635,"v":-71},{"t":1639,"v":-104},{"t":1644,"v":-222},{"t":1649,"v":-81},{"t":1654,"v":40},{"t":1658,"v":165},{"t":1663,"v":115},{"t":1668,"v":7},{"t":1673,"v":-20},{"t":1677,"v":20},{"t":1682,"v":40},{"t":1687,"v":-54},{"t":1692,"v":30},{"t":1696,"v":-37},{"t":1701,"v":-3},{"t":1706,"v":-81},{"t":1711,"v":-148},{"t":1715,"v":-54},{"t":1720,"v":-37},{"t":1725,"v":-27},{"t":1730,"v":-104},{"t":1735,"v":-121},{"t":1739,"v":-138},{"t":1744,"v":-182},{"t":1749,"v":-115},{"t":1754,"v":-189},{"t":1758,"v":-155},{"t":1763,"v":-182},{"t":1768,"v":-222},{"t":1773,"v":-20},{"t":1777,"v":74},{"t":1782,"v":13},{"t":1787,"v":-71},{"t":1792,"v":-162},{"t":1796,"v":-324},{"t":1801,"v":-307},{"t":1806,"v":-206},{"t":1811,"v":-307},{"t":1815,"v":-138},{"t":1820,"v":7},{"t":1825,"v":-94},{"t":1830,"v":-162},{"t":1835,"v":-206},{"t":1839,"v":-290},{"t":1844,"v":-128},{"t":1849,"v":-20},{"t":1854,"v":-81},{"t":1858,"v":-104},{"t":1863,"v":115},{"t":1868,"v":-162},{"t":1873,"v":47},{"t":1877,"v":47},{"t":1882,"v":-104},{"t":1887,"v":47},{"t":1892,"v":81},{"t":1896,"v":-162},{"t":1901,"v":64},{"t":1906,"v":148},{"t":1911,"v":165},{"t":1915,"v":175},{"t":1920,"v":131},{"t":1925,"v":115},{"t":1930,"v":81},{"t":1935,"v":47},{"t":1939,"v":-47},{"t":1944,"v":-20},{"t":1949,"v":-71},{"t":1954,"v":-121},{"t":1958,"v":-283},{"t":1963,"v":-138},{"t":1968,"v":-155}
],
"p3": [
{"t":-1935,"v":-71},{"t":-1930,"v":-88},{"t":-1925,"v":-61},{"t":-1920,"v":-121},{"t":-1915,"v":-27},{"t":-1911,"v":64},{"t":-1906,"v":54},{"t":-1901,"v":148},{"t":-1896,"v":216},{"t":-1892,"v":233},{"t":-1887,"v":222},{"t":-1882,"v":209},{"t":-1877,"v":199},{"t":-1873,"v":142},{"t":-1868,"v":131},{"t":-1863,"v":142},{"t":-1858,"v":165},{"t":-1854,"v":199},{"t":-1849,"v":243},{"t":-1844,"v":256},{"t":-1839,"v":233},{"t":-1835,"v":300},{"t":-1830,"v":276},{"t":-1825,"v":233},{"t":-1820,"v":222},{"t":-1815,"v":98},{"t":-1811,"v":-121},{"t":-1806,"v":-61},{"t":-1801,"v":88},{"t":-1796,"v":30},{"t":-1792,"v":54},{"t":-1787,"v":30},{"t":-1782,"v":-27},{"t":-1777,"v":-20},{"t":-1773,"v":-104},{"t":-1768,"v":-27},{"t":-1763,"v":-3},{"t":-1758,"v":54},{"t":-1754,"v":108},{"t":-1749,"v":64},{"t":-1744,"v":-121},{"t":-1739,"v":64},{"t":-1734,"v":-54},{"t":-1730,"v":-189},{"t":-1725,"v":-104},{"t":-1720,"v":-54},{"t":-1715,"v":-195},{"t":-1711,"v":-239},{"t":-1706,"v":-256},{"t":-1701,"v":-206},{"t":-1696,"v":-206},{"t":-1692,"v":-155},{"t":-1687,"v":-20},{"t":-1682,"v":-3},{"t":-1677,"v":131},{"t":-1673,"v":64},{"t":-1668,"v":47},{"t":-1663,"v":-88},{"t":-1658,"v":-162},{"t":-1654,"v":-54},{"t":-1649,"v":-104},{"t":-1644,"v":-94},{"t":-1639,"v":-155},{"t":-1634,"v":-104},{"t":-1630,"v":-27},{"t":-1625,"v":-71},{"t":-1620,"v":-88},{"t":-1615,"v":-121},{"t":-1611,"v":-138},{"t":-1606,"v":-121},{"t":-1601,"v":7},{"t":-1596,"v":30},{"t":-1592,"v":64},{"t":-1587,"v":64},{"t":-1582,"v":-104},{"t":-1577,"v":-54},{"t":-1573,"v":-71},{"t":-1568,"v":-20},{"t":-1563,"v":-47},{"t":-1558,"v":-121},{"t":-1554,"v":-54},{"t":-1549,"v":-148},{"t":-1544,"v":-71},{"t":-1539,"v":-37},{"t":-1535,"v":13},{"t":-1530,"v":81},{"t":-1525,"v":131},{"t":-1520,"v":98},{"t":-1515,"v":7},{"t":-1511,"v":-71},{"t":-1506,"v":-61},{"t":-1501,"v":-37},{"t":-1496,"v":-71},{"t":-1492,"v":-162},{"t":-1487,"v":-37},{"t":-1482,"v":-20},{"t":-1477,"v":64},{"t":-1473,"v":81},{"t":-1468,"v":131},{"t":-1463,"v":121},{"t":-1458,"v":334},{"t":-1454,"v":131},{"t":-1449,"v":13},{"t":-1444,"v":64},{"t":-1439,"v":-54},{"t":-1434,"v":54},{"t":-1430,"v":-155},{"t":-1425,"v":-162},{"t":-1420,"v":13},{"t":-1415,"v":-189},{"t":-1411,"v":-104},{"t":-1406,"v":-47},{"t":-1401,"v":-88},{"t":-1396,"v":-104},{"t":-1392,"v":-115},{"t":-1387,"v":-104},{"t":-1382,"v":-273},{"t":-1377,"v":-115},{"t":-1373,"v":-3},{"t":-1368,"v":30},{"t":-1363,"v":81},{"t":-1358,"v":249},{"t":-1354,"v":300},{"t":-1349,"v":324},{"t":-1344,"v":637},{"t":-1339,"v":384},{"t":-1335,"v":310},{"t":-1330,"v":209},{"t":-1325,"v":155},{"t":-1320,"v":131},{"t":-1315,"v":81},{"t":-1311,"v":30},{"t":-1306,"v":13},{"t":-1301,"v":-37},{"t":-1296,"v":-13},{"t":-1292,"v":-61},{"t":-1287,"v":-121},{"t":-1282,"v":-47},{"t":-1277,"v":-13},{"t":-1273,"v":-37},{"t":-1268,"v":-104},{"t":-1263,"v":-71},{"t":-1258,"v":-13},{"t":-1254,"v":-54},{"t":-1249,"v":-71},{"t":-1244,"v":-104},{"t":-1239,"v":-216},{"t":-1234,"v":-189},{"t":-1230,"v":-162},{"t":-1225,"v":-121},{"t":-1220,"v":-104},{"t":-1215,"v":-54},{"t":-1211,"v":13},{"t":-1206,"v":142},{"t":-1201,"v":243},{"t":-1196,"v":344},{"t":-1192,"v":687},{"t":-1187,"v":637},{"t":-1182,"v":334},{"t":-1177,"v":64},{"t":-1173,"v":189},{"t":-1168,"v":-71},{"t":-1163,"v":-206},{"t":-1158,"v":-54},{"t":-1153,"v":-256},{"t":-1149,"v":-54},{"t":-1144,"v":-37},{"t":-1139,"v":-104},{"t":-1134,"v":148},{"t":-1130,"v":175},{"t":-1125,"v":199},{"t":-1120,"v":115},{"t":-1115,"v":-71},{"t":-1111,"v":-71},{"t":-1106,"v":-71},{"t":-1101,"v":-195},{"t":-1096,"v":-88},{"t":-1092,"v":-71},{"t":-1087,"v":-71},{"t":-1082,"v":-3},{"t":-1077,"v":-47},{"t":-1073,"v":-71},{"t":-1068,"v":-94},{"t":-1063,"v":-37},{"t":-1058,"v":-13},{"t":-1054,"v":13},{"t":-1049,"v":30},{"t":-1044,"v":64},{"t":-1039,"v":7},{"t":-1035,"v":-20},{"t":-1030,"v":-104},{"t":-1025,"v":-88},{"t":-1020,"v":-54},{"t":-1016,"v":-61},{"t":-1011,"v":-54},{"t":-1006,"v":-121},
{"t":-993,"v":-155},{"t":-988,"v":-148},{"t":-983,"v":54},{"t":-979,"v":-182},{"t":-974,"v":-121},{"t":-969,"v":-189},{"t":-964,"v":-229},{"t":-960,"v":-273},{"t":-955,"v":-81},{"t":-950,"v":-121},{"t":-945,"v":7},{"t":-940,"v":148},{"t":-936,"v":148},{"t":-931,"v":13},{"t":-926,"v":-172},{"t":-921,"v":-54},{"t":-917,"v":-47},{"t":-912,"v":-148},{"t":-907,"v":-172},{"t":-902,"v":13},{"t":-898,"v":-71},{"t":-893,"v":54},{"t":-888,"v":7},{"t":-883,"v":13},{"t":-879,"v":-94},{"t":-874,"v":175},{"t":-869,"v":243},{"t":-864,"v":222},{"t":-860,"v":216},{"t":-855,"v":199},{"t":-850,"v":209},{"t":-845,"v":155},{"t":-840,"v":182},{"t":-836,"v":155},{"t":-831,"v":81},{"t":-826,"v":88},{"t":-821,"v":54},{"t":-817,"v":30},{"t":-812,"v":-13},{"t":-807,"v":-54},{"t":-802,"v":-71},{"t":-798,"v":-81},{"t":-793,"v":40},{"t":-788,"v":-54},{"t":-783,"v":-37},{"t":-779,"v":-81},{"t":-774,"v":-37},{"t":-769,"v":-47},{"t":-764,"v":-54},{"t":-759,"v":-148},{"t":-755,"v":-37},{"t":-750,"v":47},{"t":-745,"v":-37},{"t":-740,"v":-61},{"t":-736,"v":47},{"t":-731,"v":344},{"t":-726,"v":559},{"t":-721,"v":344},{"t":-717,"v":256},{"t":-712,"v":222},{"t":-707,"v":40},{"t":-702,"v":131},{"t":-698,"v":88},{"t":-693,"v":115},{"t":-688,"v":131},{"t":-683,"v":155},{"t":-679,"v":121},{"t":-674,"v":47},{"t":-669,"v":-239},{"t":-664,"v":-148},{"t":-660,"v":-81},{"t":-655,"v":-20},{"t":-650,"v":-162},{"t":-645,"v":-148},{"t":-640,"v":-121},{"t":-636,"v":-104},{"t":-631,"v":-94},{"t":-626,"v":-138},{"t":-621,"v":-94},{"t":-617,"v":-88},{"t":-612,"v":20},{"t":-607,"v":-54},{"t":-602,"v":20},{"t":-598,"v":-54},{"t":-593,"v":-13},{"t":-588,"v":98},{"t":-583,"v":64},{"t":-579,"v":131},{"t":-574,"v":290},{"t":-569,"v":266},{"t":-564,"v":249},{"t":-560,"v":88},{"t":-555,"v":-3},{"t":-550,"v":-138},{"t":-545,"v":-128},{"t":-540,"v":-138},{"t":-536,"v":-155},{"t":-531,"v":-256},{"t":-526,"v":-290},{"t":-521,"v":-330},{"t":-517,"v":-182},{"t":-512,"v":-155},{"t":-507,"v":-54},{"t":-502,"v":-3},{"t":-498,"v":74},{"t":-493,"v":108},{"t":-488,"v":47},{"t":-483,"v":216},{"t":-479,"v":401},{"t":-474,"v":418},{"t":-469,"v":216},{"t":-464,"v":199},{"t":-460,"v":199},{"t":-455,"v":175},{"t":-450,"v":115},{"t":-445,"v":-54},{"t":-440,"v":-249},{"t":-436,"v":-155},{"t":-431,"v":-138},{"t":-426,"v":-189},{"t":-421,"v":-54},{"t":-417,"v":-20},{"t":-412,"v":-148},{"t":-407,"v":-3},{"t":-402,"v":-3},{"t":-398,"v":-54},{"t":-393,"v":47},{"t":-388,"v":-47},{"t":-383,"v":-104},{"t":-379,"v":-54},{"t":-374,"v":-138},{"t":-369,"v":-195},{"t":-364,"v":-121},{"t":-359,"v":-94},{"t":-355,"v":-88},{"t":-350,"v":-71},{"t":-345,"v":-54},{"t":-340,"v":-115},{"t":-336,"v":-47},{"t":-331,"v":-172},{"t":-326,"v":-37},{"t":-321,"v":-13},{"t":-317,"v":20},{"t":-312,"v":148},{"t":-307,"v":142},{"t":-302,"v":131},{"t":-298,"v":115},{"t":-293,"v":88},{"t":-288,"v":131},{"t":-283,"v":98},{"t":-279,"v":30},{"t":-274,"v":81},{"t":-269,"v":64},{"t":-264,"v":-47},{"t":-260,"v":-37},{"t":-255,"v":182},{"t":-250,"v":47},{"t":-245,"v":40},{"t":-240,"v":131},{"t":-236,"v":115},{"t":-231,"v":249},{"t":-226,"v":115},{"t":-221,"v":-20},{"t":-217,"v":-54},{"t":-212,"v":-138},{"t":-207,"v":-115},{"t":-202,"v":-88},{"t":-198,"v":-104},{"t":-193,"v":-54},{"t":-188,"v":30},{"t":-183,"v":30},{"t":-179,"v":-71},{"t":-174,"v":54},{"t":-169,"v":81},{"t":-164,"v":115},{"t":-159,"v":334},{"t":-155,"v":216},{"t":-150,"v":-71},{"t":-145,"v":-47},{"t":-140,"v":-88},{"t":-136,"v":47},{"t":-131,"v":13},{"t":-126,"v":-148},{"t":-121,"v":-138},{"t":-117,"v":-128},{"t":-112,"v":-104},{"t":-107,"v":-54},{"t":-102,"v":-27},{"t":-98,"v":-27},{"t":-93,"v":-3},{"t":-88,"v":-27},{"t":-83,"v":30},{"t":-79,"v":-104},{"t":-74,"v":-71},{"t":-69,"v":-81},{"t":-64,"v":-37},{"t":-59,"v":-13},{"t":-55,"v":54},{"t":-50,"v":74},{"t":-45,"v":81},{"t":-40,"v":40},{"t":-36,"v":20},{"t":-31,"v":7},{"t":-26,"v":64},{"t":-21,"v":7},{"t":-17,"v":-88},{"t":-12,"v":-195},{"t":-7,"v":7},
{"t":-2,"v":445},{"t":2,"v":627},{"t":6,"v":890},{"t":10,"v":627},{"t":14,"v":334},{"t":19,"v":222},{"t":24,"v":256},{"t":29,"v":131},{"t":33,"v":-81},{"t":38,"v":-94},{"t":43,"v":-155},{"t":48,"v":-172},{"t":52,"v":-27},{"t":57,"v":-20},{"t":62,"v":-27},{"t":67,"v":-162},{"t":71,"v":-182},{"t":76,"v":-20},{"t":81,"v":-13},{"t":86,"v":47},{"t":90,"v":81},{"t":95,"v":88},{"t":100,"v":-27},{"t":105,"v":-37},{"t":110,"v":20},{"t":114,"v":7},{"t":119,"v":-20},{"t":124,"v":-54},{"t":129,"v":-155},{"t":133,"v":-138},{"t":138,"v":-115},{"t":143,"v":-148},{"t":148,"v":-162},{"t":152,"v":-182},{"t":157,"v":-283},{"t":162,"v":-138},{"t":167,"v":-20},{"t":171,"v":-71},{"t":176,"v":-148},{"t":181,"v":-128},{"t":186,"v":-162},{"t":190,"v":-229},{"t":195,"v":-81},{"t":200,"v":-115},{"t":205,"v":-229},{"t":210,"v":-155},{"t":214,"v":-37},{"t":219,"v":131},{"t":224,"v":121},{"t":229,"v":-88},{"t":233,"v":30},{"t":238,"v":-54},{"t":243,"v":175},{"t":248,"v":216},{"t":252,"v":256},{"t":257,"v":182},{"t":262,"v":155},{"t":267,"v":216},{"t":271,"v":131},{"t":276,"v":-27},{"t":281,"v":64},{"t":286,"v":47},{"t":290,"v":64},{"t":295,"v":81},{"t":300,"v":64},{"t":305,"v":-20},{"t":310,"v":-61},{"t":314,"v":-71},{"t":319,"v":-121},{"t":324,"v":-47},{"t":329,"v":20},{"t":333,"v":64},{"t":338,"v":81},{"t":343,"v":47},{"t":348,"v":20},{"t":352,"v":-155},{"t":357,"v":-172},{"t":362,"v":-37},{"t":367,"v":7},{"t":371,"v":64},{"t":376,"v":47},{"t":381,"v":40},{"t":386,"v":-27},{"t":391,"v":-47},{"t":395,"v":-71},{"t":400,"v":-47},{"t":405,"v":-27},{"t":410,"v":30},{"t":414,"v":-71},{"t":419,"v":-138},{"t":424,"v":-20},{"t":429,"v":-104},{"t":433,"v":-121},{"t":438,"v":-37},{"t":443,"v":-27},{"t":448,"v":-162},{"t":452,"v":-229},{"t":457,"v":-121},{"t":462,"v":-115},{"t":467,"v":-206},{"t":471,"v":-206},{"t":476,"v":-189},{"t":481,"v":-172},{"t":486,"v":-71},{"t":490,"v":-54},{"t":495,"v":-47},{"t":500,"v":-71},{"t":505,"v":-94},{"t":510,"v":115},{"t":514,"v":182},{"t":519,"v":199},{"t":524,"v":411},{"t":529,"v":344},{"t":533,"v":401},{"t":538,"v":344},{"t":543,"v":344},{"t":548,"v":222},{"t":552,"v":199},{"t":557,"v":115},{"t":562,"v":148},{"t":567,"v":249},{"t":571,"v":283},{"t":576,"v":243},{"t":581,"v":189},{"t":586,"v":142},{"t":590,"v":115},{"t":595,"v":64},{"t":600,"v":74},{"t":605,"v":-37},{"t":610,"v":30},{"t":614,"v":30},{"t":619,"v":64},{"t":624,"v":40},{"t":629,"v":-27},{"t":633,"v":7},{"t":638,"v":-20},{"t":643,"v":-61},{"t":648,"v":-94},{"t":652,"v":-47},{"t":657,"v":-3},{"t":662,"v":47},{"t":667,"v":88},{"t":671,"v":115},{"t":676,"v":64},{"t":681,"v":-104},{"t":686,"v":30},{"t":690,"v":98},{"t":695,"v":-54},{"t":700,"v":-155},{"t":705,"v":64},{"t":710,"v":367},{"t":714,"v":249},{"t":719,"v":115},{"t":724,"v":-47},{"t":729,"v":-81},{"t":733,"v":-206},{"t":738,"v":-216},{"t":743,"v":-20},{"t":748,"v":64},{"t":752,"v":40},{"t":757,"v":108},{"t":762,"v":148},{"t":767,"v":155},{"t":771,"v":165},{"t":776,"v":64},{"t":781,"v":40},{"t":786,"v":-88},{"t":791,"v":-71},{"t":795,"v":-47},{"t":800,"v":30},{"t":805,"v":64},{"t":810,"v":98},{"t":814,"v":148},{"t":819,"v":64},{"t":824,"v":-54},{"t":829,"v":13},{"t":833,"v":30},{"t":838,"v":131},{"t":843,"v":-27},{"t":848,"v":13},{"t":852,"v":-71},{"t":857,"v":13},{"t":862,"v":-88},{"t":867,"v":-104},{"t":871,"v":-20},{"t":876,"v":-71},{"t":881,"v":-81},{"t":886,"v":-13},{"t":890,"v":-20},{"t":895,"v":-27},{"t":900,"v":-121},{"t":905,"v":-148},{"t":910,"v":-189},{"t":914,"v":-94},{"t":919,"v":-54},{"t":924,"v":7},{"t":929,"v":47},{"t":933,"v":64},{"t":938,"v":216},{"t":943,"v":290},{"t":948,"v":165},{"t":952,"v":115},{"t":957,"v":-20},{"t":962,"v":-47},{"t":967,"v":-71},{"t":971,"v":-94},{"t":976,"v":-61},{"t":981,"v":-189},{"t":986,"v":-121},{"t":990,"v":-104},{"t":995,"v":-138},
{"t":1002,"v":-162},{"t":1007,"v":-155},{"t":1012,"v":-138},{"t":1017,"v":30},{"t":1021,"v":-3},{"t":1026,"v":64},{"t":1031,"v":-37},{"t":1036,"v":47},{"t":1040,"v":98},{"t":1045,"v":155},{"t":1050,"v":7},{"t":1055,"v":30},{"t":1060,"v":64},{"t":1064,"v":-3},{"t":1069,"v":-47},{"t":1074,"v":-121},{"t":1079,"v":13},{"t":1083,"v":-37},{"t":1088,"v":7},{"t":1093,"v":-71},{"t":1098,"v":20},{"t":1102,"v":40},{"t":1107,"v":-3},{"t":1112,"v":-138},{"t":1117,"v":-20},{"t":1121,"v":-71},{"t":1126,"v":-104},{"t":1131,"v":-27},{"t":1136,"v":-115},{"t":1141,"v":-47},{"t":1145,"v":-104},{"t":1150,"v":-20},{"t":1155,"v":-3},{"t":1160,"v":30},{"t":1164,"v":142},{"t":1169,"v":199},{"t":1174,"v":222},{"t":1179,"v":74},{"t":1183,"v":-71},{"t":1188,"v":-162},{"t":1193,"v":-71},{"t":1198,"v":-27},{"t":1202,"v":-71},{"t":1207,"v":-3},{"t":1212,"v":54},{"t":1217,"v":30},{"t":1221,"v":-37},{"t":1226,"v":-104},{"t":1231,"v":-47},{"t":1236,"v":30},{"t":1241,"v":-3},{"t":1245,"v":-121},{"t":1250,"v":-54},{"t":1255,"v":-3},{"t":1260,"v":-81},{"t":1264,"v":-138},{"t":1269,"v":-37},{"t":1274,"v":-20},{"t":1279,"v":13},{"t":1283,"v":98},{"t":1288,"v":88},{"t":1293,"v":-13},{"t":1298,"v":13},{"t":1302,"v":64},{"t":1307,"v":-94},{"t":1312,"v":47},{"t":1317,"v":13},{"t":1321,"v":54},{"t":1326,"v":216},{"t":1331,"v":30},{"t":1336,"v":131},{"t":1341,"v":64},{"t":1345,"v":98},{"t":1350,"v":7},{"t":1355,"v":64},{"t":1360,"v":-3},{"t":1364,"v":-37},{"t":1369,"v":216},{"t":1374,"v":142},{"t":1379,"v":40},{"t":1383,"v":-3},{"t":1388,"v":-20},{"t":1393,"v":-20},{"t":1398,"v":-104},{"t":1402,"v":-20},{"t":1407,"v":13},{"t":1412,"v":64},{"t":1417,"v":222},{"t":1421,"v":98},{"t":1426,"v":131},{"t":1431,"v":148},{"t":1436,"v":81},{"t":1441,"v":148},{"t":1445,"v":98},{"t":1450,"v":-13},{"t":1455,"v":30},{"t":1460,"v":-54},{"t":1464,"v":-88},{"t":1469,"v":-3},{"t":1474,"v":-88},{"t":1479,"v":-81},{"t":1483,"v":30},{"t":1488,"v":-3},{"t":1493,"v":-256},{"t":1498,"v":-104},{"t":1502,"v":-71},{"t":1507,"v":-54},{"t":1512,"v":-20},{"t":1517,"v":30},{"t":1521,"v":81},{"t":1526,"v":64},{"t":1531,"v":81},{"t":1536,"v":131},{"t":1541,"v":155},{"t":1545,"v":165},{"t":1550,"v":88},{"t":1555,"v":148},{"t":1560,"v":81},{"t":1564,"v":98},{"t":1569,"v":155},{"t":1574,"v":276},{"t":1579,"v":233},{"t":1583,"v":249},{"t":1588,"v":233},{"t":1593,"v":40},{"t":1598,"v":13},{"t":1602,"v":-3},{"t":1607,"v":-37},{"t":1612,"v":64},{"t":1617,"v":30},{"t":1621,"v":47},{"t":1626,"v":-3},{"t":1631,"v":30},{"t":1636,"v":7},{"t":1641,"v":13},{"t":1645,"v":64},{"t":1650,"v":30},{"t":1655,"v":121},{"t":1660,"v":13},{"t":1664,"v":-37},{"t":1669,"v":-71},{"t":1674,"v":-20},{"t":1679,"v":-104},{"t":1683,"v":7},{"t":1688,"v":-20},{"t":1693,"v":-54},{"t":1698,"v":131},{"t":1702,"v":47},{"t":1707,"v":64},{"t":1712,"v":-47},{"t":1717,"v":-37},{"t":1721,"v":-54},{"t":1726,"v":-47},{"t":1731,"v":-104},{"t":1736,"v":-121},{"t":1741,"v":-182},{"t":1745,"v":-148},{"t":1750,"v":-239},{"t":1755,"v":-290},{"t":1760,"v":-206},{"t":1764,"v":-138},{"t":1769,"v":-162},{"t":1774,"v":-20},{"t":1779,"v":30},{"t":1783,"v":-71},{"t":1788,"v":-155},{"t":1793,"v":-148},{"t":1798,"v":-162},{"t":1802,"v":-155},{"t":1807,"v":-172},{"t":1812,"v":-283},{"t":1817,"v":-88},{"t":1821,"v":-88},{"t":1826,"v":-155},{"t":1831,"v":-182},{"t":1836,"v":-216},{"t":1841,"v":-182},{"t":1845,"v":-121},{"t":1850,"v":-88},{"t":1855,"v":-54},{"t":1860,"v":-104},{"t":1864,"v":-71},{"t":1869,"v":-155},{"t":1874,"v":-61},{"t":1879,"v":20},{"t":1883,"v":-20},{"t":1888,"v":74},{"t":1893,"v":222},{"t":1898,"v":148},{"t":1902,"v":199},{"t":1907,"v":243},{"t":1912,"v":216},{"t":1917,"v":209},{"t":1921,"v":229},{"t":1926,"v":175},{"t":1931,"v":142},{"t":1936,"v":81},{"t":1941,"v":108},{"t":1945,"v":88},{"t":1950,"v":64},{"t":1955,"v":47},{"t":1960,"v":-27},{"t":1964,"v":64},{"t":1969,"v":30}
]
},
"vconcat": [
  {
    "width": 1120, "height": 179,
    "data": {"name": "p1"},
    "mark": {"type": "line", "color": "#0000ff", "strokeWidth": 1.5, "point": {"filled": true, "size": 12, "color": "#0000ff"}},
    "encoding": {
      "x": {"field": "t", "type": "quantitative", "scale": {"domain": [-2000, 2000], "nice": false, "zero": false}, "axis": {"values": [-2000,-1500,-1000,-500,0,500,1000,1500,2000], "title": null, "format": "d"}},
      "y": {"field": "v", "type": "quantitative", "scale": {"domain": [-600, 1200], "nice": false, "zero": false}, "axis": {"values": [-500,0,500,1000], "title": "Flux Density LWA1 (Jy)", "titlePadding": 9, "format": "d"}}
    }
  },
  {
    "width": 1120, "height": 179,
    "data": {"name": "p2"},
    "mark": {"type": "line", "color": "#0000ff", "strokeWidth": 1.5, "point": {"filled": true, "size": 12, "color": "#0000ff"}},
    "encoding": {
      "x": {"field": "t", "type": "quantitative", "scale": {"domain": [-2000, 2000], "nice": false, "zero": false}, "axis": {"values": [-2000,-1500,-1000,-500,0,500,1000,1500,2000], "title": null, "format": "d"}},
      "y": {"field": "v", "type": "quantitative", "scale": {"domain": [-600, 1200], "nice": false, "zero": false}, "axis": {"values": [-500,0,500,1000], "title": "Flux Density LWA-SV (Jy)", "titlePadding": 9, "format": "d"}}
    }
  },
  {
    "width": 1120, "height": 179,
    "data": {"name": "p3"},
    "mark": {"type": "line", "color": "#0000ff", "strokeWidth": 1.5, "point": {"filled": true, "size": 12, "color": "#0000ff"}},
    "encoding": {
      "x": {"field": "t", "type": "quantitative", "scale": {"domain": [-2000, 2000], "nice": false, "zero": false}, "axis": {"values": [-2000,-1500,-1000,-500,0,500,1000,1500,2000], "title": "Time relative to event (s)", "titlePadding": 4, "format": "d"}},
      "y": {"field": "v", "type": "quantitative", "scale": {"domain": [-600, 1200], "nice": false, "zero": false}, "axis": {"values": [-500,0,500,1000], "title": "Flux Density Average (Jy)", "titlePadding": 9, "format": "d"}}
    }
  }
]
}
